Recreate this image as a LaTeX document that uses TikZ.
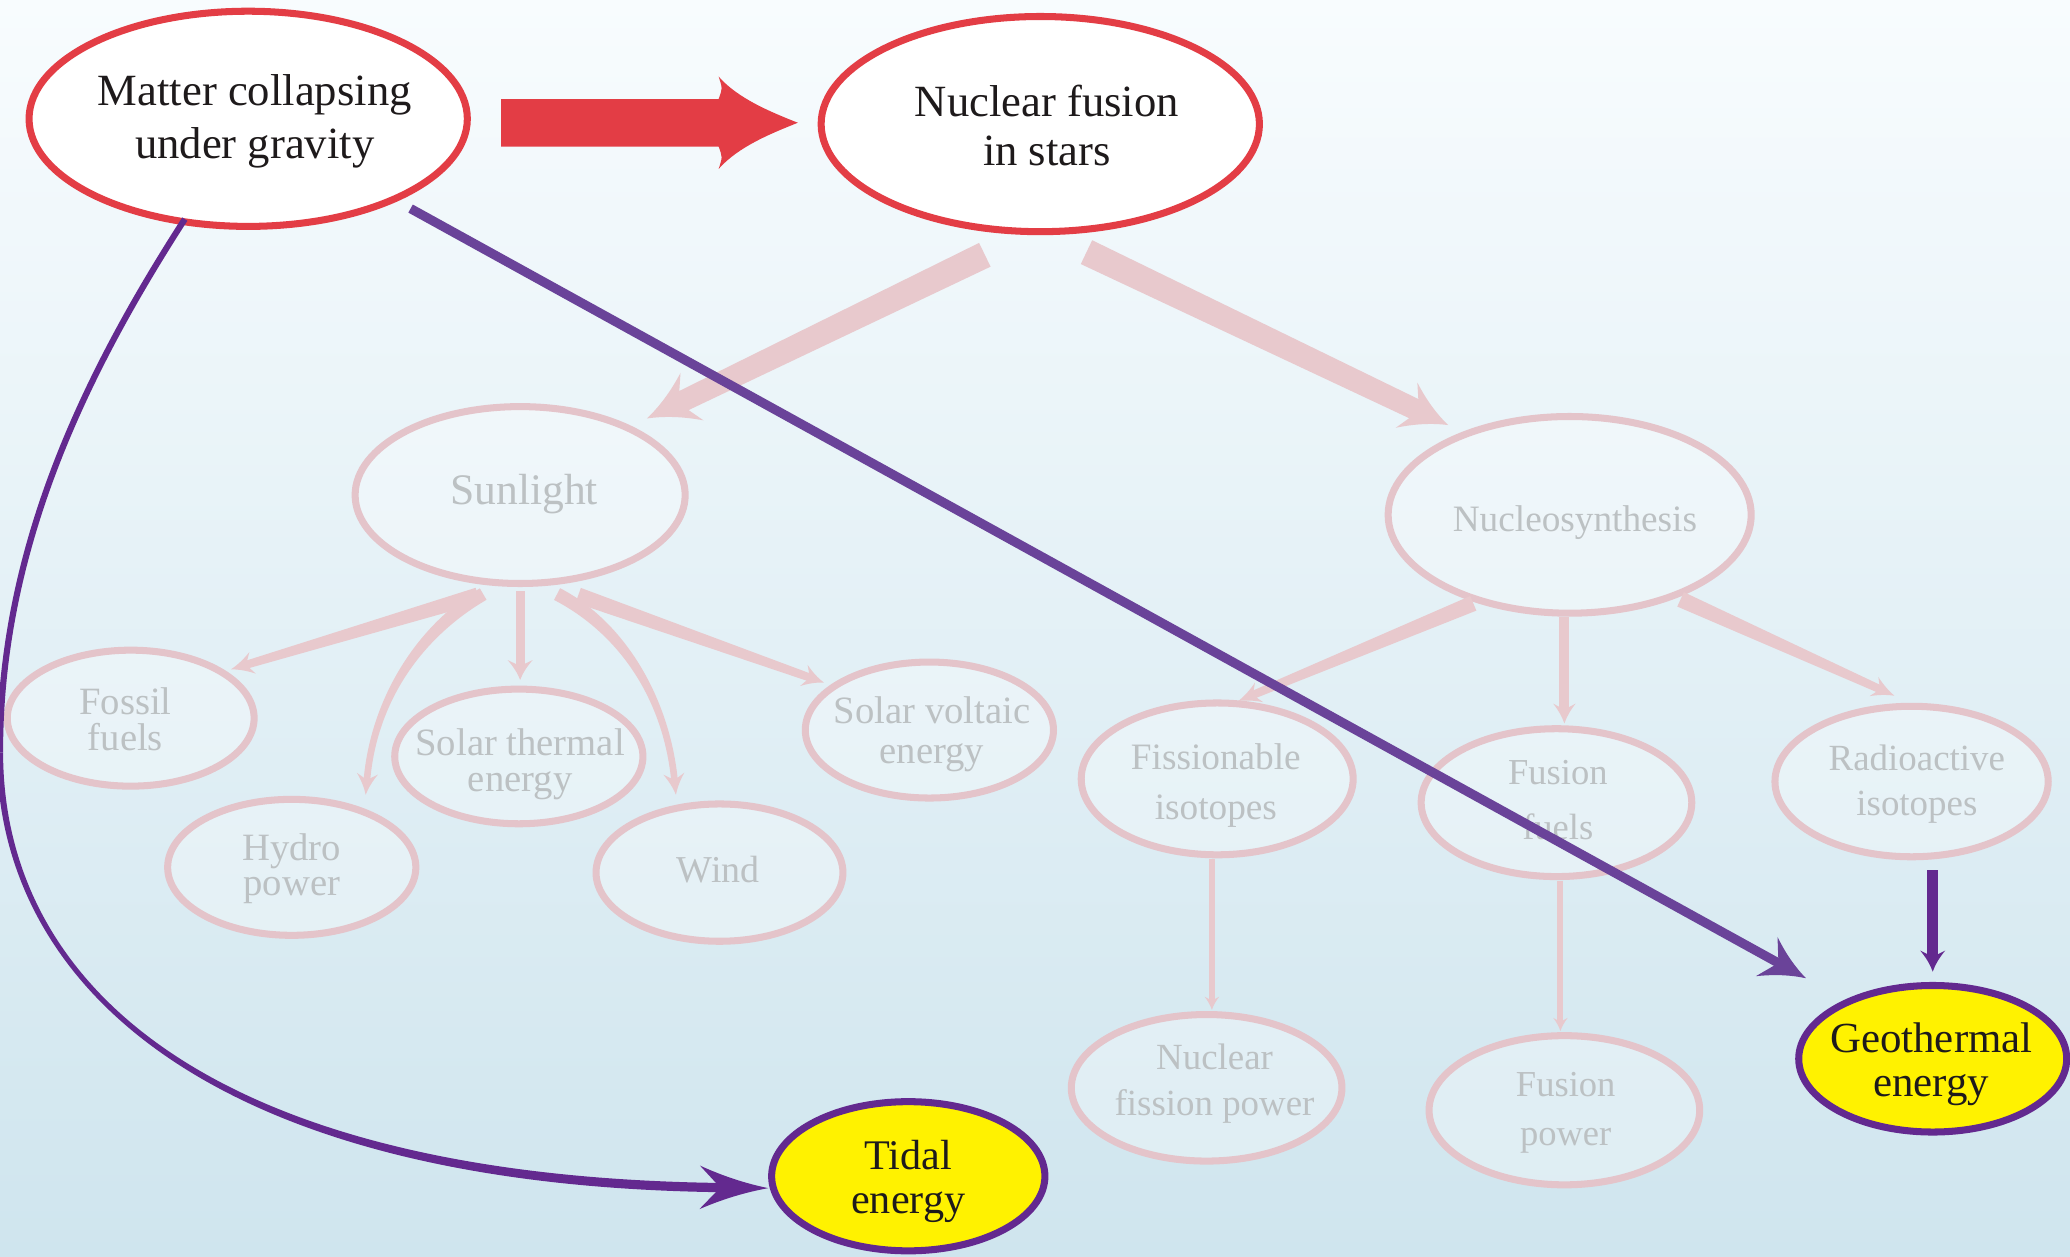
\documentclass[tikz,border=0pt]{standalone}
\usepackage{fontspec}
\setmainfont{Liberation Serif}
\usetikzlibrary{calc,shapes.geometric}

\definecolor{bgtop}{HTML}{F8FCFE}
\definecolor{bgbot}{HTML}{CFE5EE}
\definecolor{redc}{HTML}{E33D45}
\definecolor{pinkc}{HTML}{E4C4CA}
\definecolor{pinka}{HTML}{E8C9CD}
\definecolor{greyc}{HTML}{BCC1C3}
\definecolor{purpc}{HTML}{63298F}
\definecolor{purpl}{HTML}{6A4399}
\definecolor{yellowc}{HTML}{FFF200}
\definecolor{inkc}{HTML}{1E1A1B}

% canvas angle of the direction from #1 to #2, stored globally in #3
\newcommand\getangle[3]{%
  \path let \p1=(#1), \p2=(#2) in
    \pgfextra{\pgfmathparse{atan2(\y2-\y1,\x2-\x1)}\xdef#3{\pgfmathresult}};}

% arrow head with swept-back sides: [style]{tip}{angle}{length px}{width px}
\newcommand\ahead[5][]{%
  \coordinate (htip) at (#2);
  \fill[#1] (htip)
    .. controls ($(htip)+(#3+180:#4*0.1252pt)+(#3+90:#5*0.0376pt)$)
            and ($(htip)+(#3+180:#4*0.2504pt)+(#3+90:#5*0.1pt)$)
    .. ($(htip)+(#3+180:#4*0.3756pt)+(#3+90:#5*0.1878pt)$)
    -- ($(htip)+(#3+180:#4*0.263pt)$)
    -- ($(htip)+(#3+180:#4*0.3756pt)+(#3-90:#5*0.1878pt)$)
    .. controls ($(htip)+(#3+180:#4*0.2504pt)+(#3-90:#5*0.1pt)$)
            and ($(htip)+(#3+180:#4*0.1252pt)+(#3-90:#5*0.0376pt)$)
    .. (htip) -- cycle;}

% straight tapering arrow: [style]{from}{tip}{start width}{end width}{head length}{head width}
\newcommand\sarrow[7][]{%
  \coordinate (sa) at (#2); \coordinate (sb) at (#3);
  \getangle{sa}{sb}{\arA}
  \fill[#1] ($(sa)+(\arA+90:#4*0.1878pt)$)
    -- ($(sb)+(\arA+180:#6*0.244pt)+(\arA+90:#5*0.1878pt)$)
    -- ($(sb)+(\arA+180:#6*0.244pt)+(\arA-90:#5*0.1878pt)$)
    -- ($(sa)+(\arA-90:#4*0.1878pt)$) -- cycle;
  \ahead[#1]{sb}{\arA}{#6}{#7}}

% curved tapering arrow: [style]{from}{control 1}{control 2}{tip}{start width}{end width}{head length}{head width}
\newcommand\carrow[9][]{%
  \coordinate (ca) at (#2); \coordinate (c1) at (#3);
  \coordinate (c2) at (#4); \coordinate (cb) at (#5);
  \getangle{ca}{c1}{\arA}
  \getangle{c2}{cb}{\arB}
  \fill[#1] ($(ca)+(\arA+90:#6*0.1878pt)$)
    .. controls ($(c1)+(\arA+90:#6*0.1878pt)$) and ($(c2)+(\arB+90:#7*0.1878pt)$)
    .. ($(cb)+(\arB+180:#8*0.244pt)+(\arB+90:#7*0.1878pt)$)
    -- ($(cb)+(\arB+180:#8*0.244pt)+(\arB-90:#7*0.1878pt)$)
    .. controls ($(c2)+(\arB-90:#7*0.1878pt)$) and ($(c1)+(\arA-90:#6*0.1878pt)$)
    .. ($(ca)+(\arA-90:#6*0.1878pt)$) -- cycle;
  \ahead[#1]{cb}{\arB}{#8}{#9}}

\begin{document}
\begin{tikzpicture}[x=0.013202cm, y=-0.013202cm,
  esz/.style 2 args={minimum width=#1*0.013202cm, minimum height=#2*0.013202cm},
  core/.style={ellipse, draw=redc, line width=2pt, fill=white, inner sep=0pt},
  faded/.style={ellipse, draw=pinkc, line width=2pt, fill=white, fill opacity=0.3, inner sep=0pt},
  goal/.style={ellipse, draw=purpc, line width=2pt, fill=yellowc, inner sep=0pt},
  dark/.style={align=center, inner sep=0pt, text=inkc},
  pale/.style={align=center, inner sep=0pt, text=greyc},
  pinkfill/.style={fill=pinka},
]
\useasboundingbox (0,0) rectangle (1568,952);
\shade[top color=bgtop, bottom color=bgbot] (0,0) rectangle (1568,952);

% ---- faded energy tree ----
\node[faded, esz={250}{134}] (sun) at (394,375) {};
\node[faded, esz={275}{149}] (nucleo) at (1189,390) {};
\node[faded, esz={187}{103}] (fossil) at (99,544) {};
\node[faded, esz={188}{103}] (hydro) at (221,657) {};
\node[faded, esz={188}{102}] (sthermal) at (393,573) {};
\node[faded, esz={187}{104}] (wind) at (545,661) {};
\node[faded, esz={188}{103}] (svoltaic) at (704,553) {};
\node[faded, esz={206}{115}] (fissile) at (922,590) {};
\node[faded, esz={205}{112}] (ffuels) at (1179,608) {};
\node[faded, esz={207}{114}] (radio) at (1448,592) {};
\node[faded, esz={205}{111}] (fispow) at (914,824) {};
\node[faded, esz={205}{113}] (fuspow) at (1185,841) {};

\node[pale, font=\fontsize{12.4}{14}\selectfont] (sunT) at (397,374) {Sunlight};
\node[pale, font=\fontsize{10.6}{12}\selectfont] (nucleoT) at (1193,396) {Nucleosynthesis};
\node[pale, font=\fontsize{11}{10.1}\selectfont] (fossilT) at (95,545) {Fossil\\fuels};
\node[pale, font=\fontsize{11}{9.8}\selectfont] (hydroT) at (221,658) {Hydro\\power};
\node[pale, font=\fontsize{11}{10.1}\selectfont] (sthermalT) at (394,579) {Solar thermal\\energy};
\node[pale, font=\fontsize{10.8}{12}\selectfont] (windT) at (544,659) {Wind};
\node[pale, font=\fontsize{11}{11.3}\selectfont] (svoltaicT) at (706,556) {Solar voltaic\\energy};
\node[pale, font=\fontsize{10.6}{14.3}\selectfont] (fissileT) at (921,595) {Fissionable\\isotopes};
\node[pale, font=\fontsize{10.4}{15.4}\selectfont] (ffuelsT) at (1180,606) {Fusion\\fuels};
\node[pale, font=\fontsize{10.5}{12.8}\selectfont] (radioT) at (1452,594) {Radioactive\\isotopes};
\node[pale, font=\fontsize{10.5}{13.1}\selectfont] (fispowT) at (920,821) {Nuclear\\fission power};
\node[pale, font=\fontsize{10.4}{13.9}\selectfont] (fuspowT) at (1186,843) {Fusion\\power};

% ---- core nodes ----
\node[core, esz={332}{163}] (matter) at (188,90) {};
\node[core, esz={332}{163}] (fusion) at (788,94) {};
\node[dark, font=\fontsize{12.7}{15}\selectfont] (matterT) at (193,92) {Matter collapsing\\under gravity};
\node[dark, font=\fontsize{12.7}{13.9}\selectfont] (fusionT) at (793,95) {Nuclear fusion\\in stars};

% ---- faded connectors ----
\sarrow[pinkfill]{$(fusion)+(-42,99)$}{$(sun)+(96,-58)$}{20}{16}{38}{40}
\sarrow[pinkfill]{$(fusion)+(35,97)$}{$(nucleo)+(-92,-68)$}{20}{16}{35}{38}

\sarrow[pinkfill]{$(sun)+(-32,76)$}{$(fossil)+(76,-37)$}{12}{6}{17}{17}
\carrow[pinkfill]{$(sun)+(-28,75)$}{$(sun)+(-76,103)$}{$(sun)+(-111,155)$}{$(hydro)+(56,-55)$}{10}{5}{16}{16}
\sarrow[pinkfill]{$(sun)+(0,73)$}{$(sthermal)+(1,-58)$}{7}{7}{15}{19}
\carrow[pinkfill]{$(sun)+(28,75)$}{$(sun)+(78,101)$}{$(sun)+(111,155)$}{$(wind)+(-33,-59)$}{10}{5}{16}{16}
\sarrow[pinkfill]{$(sun)+(44,76)$}{$(svoltaic)+(-80,-36)$}{12}{6}{16}{17}

\sarrow[pinkfill]{$(nucleo)+(-73,67)$}{$(fissile)+(16,-59)$}{12}{6}{17}{16}
\sarrow[pinkfill]{$(nucleo)+(-4,77)$}{$(ffuels)+(6,-60)$}{7.5}{7.5}{15}{17}
\sarrow[pinkfill]{$(nucleo)+(84,64)$}{$(radio)+(-13,-65)$}{12}{6}{17}{16}

\sarrow[pinkfill]{$(fissile)+(-4,61)$}{$(fispow)+(4,-59)$}{4.5}{4.5}{10}{11}
\sarrow[pinkfill]{$(ffuels)+(3,59)$}{$(fuspow)+(-3,-60)$}{4.5}{4.5}{10}{11}

% ---- gravity drives fusion ----
\coordinate (rt) at ($(fusion.west)+(-15,-1)$);
\coordinate (rs) at ($(rt -| matter.east)+(23,0)$);
\fill[redc] ($(rs)+(0,-18)$) -- ($(rt)+(-60,-18)$)
  .. controls ($(rt)+(-57,-26)$) .. ($(rt)+(-60,-35)$)
  .. controls ($(rt)+(-45,-18)$) and ($(rt)+(-20,-8)$) .. (rt)
  .. controls ($(rt)+(-20,8)$) and ($(rt)+(-45,18)$) .. ($(rt)+(-60,35)$)
  .. controls ($(rt)+(-57,26)$) .. ($(rt)+(-60,18)$)
  -- ($(rs)+(0,18)$) -- cycle;

% ---- highlighted sources ----
\node[goal, esz={203}{111}] (geo) at (1464,802) {};
\node[goal, esz={207}{113}] (tidal) at (688,891) {};
\node[dark, font=\fontsize{12.2}{12.4}\selectfont] (geoT) at (1463,806) {Geothermal\\energy};
\node[dark, font=\fontsize{12}{12.4}\selectfont] (tidalT) at (688,895) {Tidal\\energy};

% gravity -> tides: thin run down the left side, thickening towards the head
\coordinate (tidS) at ($(matter)+(-48,76)$);
\coordinate (tidM) at (0,570);
\coordinate (tidTip) at ($(tidal)+(-106,9)$);
\draw[purpc, line width=1.75pt] (tidS) .. controls (60,290) and (0,420) .. (tidM);
\carrow[fill=purpc]{tidM}{0,740}{150,895}{tidTip}{4.7}{7}{52}{33}

% gravity -> geothermal, radioactivity -> geothermal
\sarrow[fill=purpl]{$(matter)+(123,68)$}{$(geo)+(-96,-61)$}{7}{7}{34}{34}
\sarrow[fill=purpc]{$(radio)+(16,67)$}{$(geo)+(0,-66)$}{8.5}{8.5}{16}{19}
\end{tikzpicture}
\end{document}
